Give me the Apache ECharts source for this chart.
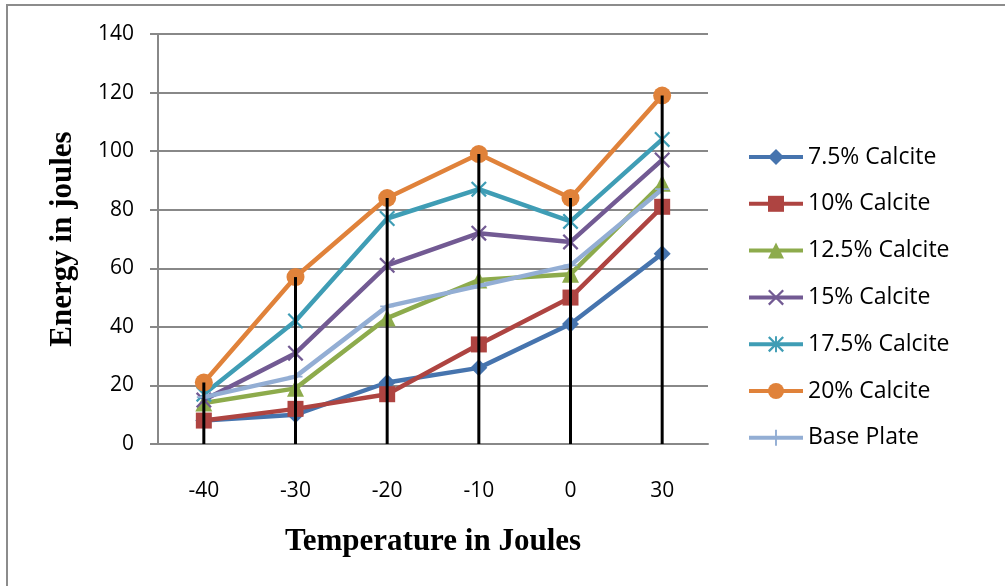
<!DOCTYPE html>
<html>
<head>
<meta charset="utf-8">
<script src="https://cdn.jsdelivr.net/npm/echarts@6/dist/echarts.min.js"></script>
<style>
html,body{margin:0;padding:0;background:#fff;}
#chart{width:1005px;height:586px;}
</style>
</head>
<body>
<div id="chart"></div>
<script>
// temperatures on the category axis
var categories = ["-40", "-30", "-20", "-10", "0", "30"];
// energy values (joules) per mix
var calcite75 = [8, 10, 21, 26, 41, 65];
var calcite10 = [8, 12, 17, 34, 50, 81];
var calcite125 = [14, 19, 43, 56, 58, 89];
var calcite15 = [15, 31, 61, 72, 69, 97];
var calcite175 = [17, 42, 77, 87, 76, 104];
var calcite20 = [21, 57, 84, 99, 84, 119];
var basePlate = [16, 23, 47, 54, 61, 87];
var seriesNames = ["7.5% Calcite", "10% Calcite", "12.5% Calcite", "15% Calcite", "17.5% Calcite", "20% Calcite", "Base Plate"];

// marker shapes (Excel style x, asterisk and plus)
var xPath = "path://M0,1L1,0L10,9L9,10Z M9,0L10,1L1,10L0,9Z";
var starPath = "path://M0,1L1,0L10,9L9,10Z M9,0L10,1L1,10L0,9Z M4.4,0L5.6,0L5.6,10L4.4,10Z";
var plusPath = "path://M4.4,0L5.6,0L5.6,10L4.4,10Z M0,4.4L10,4.4L10,5.6L0,5.6Z";

var allData = [calcite75, calcite10, calcite125, calcite15, calcite175, calcite20, basePlate];
var colors = ["#4674AE", "#AE4441", "#8DAB4C", "#725A93", "#3F9DB5", "#E0823A", "#93AED4"];
var symbols = ["diamond", "rect", "triangle", xPath, starPath, "circle", plusPath];
var sizes = [17, 16, 17, 16, 16, 18, 14];

// drop lines go from the highest point down to the axis
var dropLines = categories.map(function (c, i) {
	return Math.max.apply(null, allData.map(function (d) { return d[i]; }));
});

var series = allData.map(function (d, i) {
	return {
		name: seriesNames[i],
		type: "line",
		data: d,
		symbol: symbols[i],
		symbolSize: sizes[i],
		showAllSymbol: true,
		lineStyle: { color: colors[i], width: 4.5 },
		itemStyle: { color: colors[i], opacity: 1 },
		z: 2 + i
	};
});
series.push({
	name: "drop",
	type: "bar",
	data: dropLines,
	barWidth: 3,
	silent: true,
	itemStyle: { color: "#000" },
	z: 20
});

var myChart = echarts.init(document.getElementById("chart"));
var option = {
	animation: false,
	backgroundColor: "#fff",
	graphic: [{
		type: "rect",
		shape: { x: 7, y: 5, width: 1100, height: 700 },
		style: { fill: null, stroke: "#8c8c8c", lineWidth: 2 }
	}],
	grid: { left: 158, right: 297, top: 34, bottom: 142 },
	legend: {
		data: seriesNames,
		orient: "vertical",
		left: 742,
		top: 140,
		padding: 5,
		itemWidth: 54,
		itemHeight: 20,
		itemGap: 22.8,
		lineStyle: { width: 4 },
		textStyle: { fontFamily: "Open Sans", fontSize: 23, color: "#000", lineHeight: 24 }
	},
	xAxis: {
		type: "category",
		data: categories,
		name: "Temperature in Joules",
		nameLocation: "middle",
		nameGap: 82,
		nameTextStyle: { fontFamily: "Liberation Serif", fontWeight: "bold", fontSize: 31, color: "#000" },
		axisLine: { lineStyle: { color: "#888", width: 2 } },
		axisTick: { show: false },
		axisLabel: { fontFamily: "Open Sans", fontSize: 21, color: "#000", margin: 37 }
	},
	yAxis: {
		type: "value",
		min: 0,
		max: 140,
		interval: 20,
		name: "Energy in joules",
		nameLocation: "middle",
		nameGap: 80,
		nameTextStyle: { fontFamily: "Liberation Serif", fontWeight: "bold", fontSize: 31, color: "#000" },
		axisLine: { show: true, lineStyle: { color: "#888", width: 2 } },
		axisTick: { show: true, length: 8, lineStyle: { color: "#888", width: 2 } },
		axisLabel: { fontFamily: "Open Sans", fontSize: 21, color: "#000", margin: 24 },
		splitLine: { lineStyle: { color: "#888", width: 2 } }
	},
	series: series
};
myChart.setOption(option);
</script>
</body>
</html>
